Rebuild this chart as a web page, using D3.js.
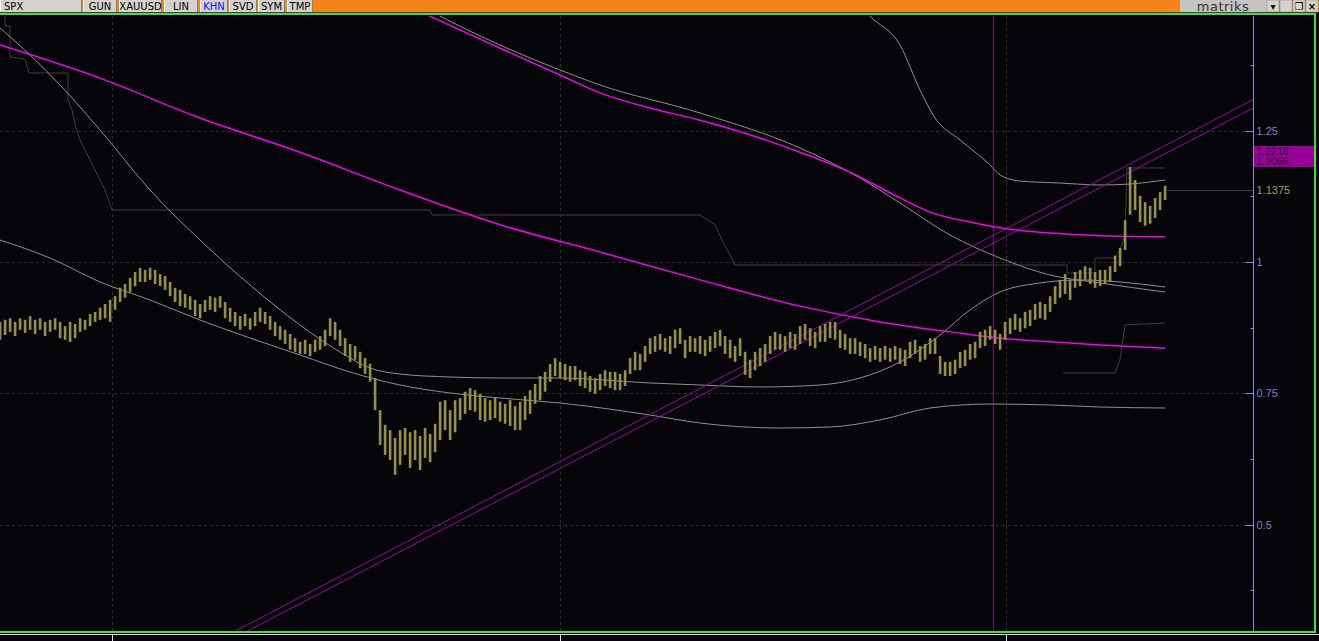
<!DOCTYPE html>
<html><head><meta charset="utf-8">
<script src="https://cdn.jsdelivr.net/npm/d3@7"></script>
<style>html,body{margin:0;padding:0;background:#060509;overflow:hidden}</style>
</head><body>
<svg id="c" width="1319" height="641"></svg>
<script>
// ---------------- DATA ----------------
const tabNames = ["SPX","GUN","XAUUSD","LIN","KHN","SVD","SYM","TMP"];
const activeTab = "KHN";
const yTickValues = [0.5, 0.75, 1, 1.25];
const yTickLabels = ["0.5","0.75","1","1.25"];
const yMinorTicks = [0.375,0.5,0.625,0.75,0.875,1,1.125,1.25,1.375];
const xPeriodStarts = [22.4, 112, 201.2];   // bar index of period boundaries
const cursorBar = 198.6;
const lastPrice = 1.1375;
const trendLabels = ["1.2218","1.2066"];

// price bars (high / low), one per bar index
const priceHigh = [.886,.890,.893,.886,.893,.890,.897,.890,.893,.886,.890,.893,.886,.878,.886,.882,.893,.890,.901,.905,
.913,.920,.928,.935,.951,.958,.970,.981,.989,.985,.989,.985,.977,.973,.962,.951,.947,.939,.935,.928,
.920,.928,.935,.932,.935,.924,.913,.905,.897,.901,.893,.905,.913,.905,.897,.886,.878,.871,.863,.855,
.848,.852,.844,.852,.859,.871,.893,.886,.871,.855,.844,.840,.829,.817,.806,.779,.718,.690,.680,.665,
.680,.684,.676,.680,.669,.684,.673,.692,.734,.737,.718,.737,.741,.753,.760,.756,.749,.741,.737,.741,
.734,.730,.737,.726,.734,.745,.756,.768,.783,.791,.806,.817,.810,.806,.802,.802,.794,.791,.783,.779,
.787,.794,.791,.791,.787,.794,.817,.829,.825,.840,.855,.859,.863,.855,.859,.871,.874,.852,.859,.855,
.859,.852,.859,.867,.871,.859,.852,.840,.855,.829,.814,.829,.836,.844,.859,.867,.863,.859,.867,.863,
.878,.882,.874,.867,.878,.882,.886,.886,.871,.863,.855,.855,.848,.844,.836,.840,.836,.840,.836,.840,
.836,.833,.848,.852,.840,.844,.855,.855,.821,.810,.810,.814,.829,.833,.844,.848,.867,.871,.878,.871,
.863,.886,.893,.901,.893,.905,.909,.920,.924,.920,.935,.954,.966,.977,.966,.981,.985,.992,.989,.981,
.985,.985,.992,1.012,1.027,1.080,1.181,1.156,1.126,1.114,1.107,1.122,1.133,1.145];
const priceLow = [.852,.861,.867,.859,.871,.865,.871,.863,.871,.859,.867,.871,.855,.852,.848,.855,.867,.871,.878,.886,
.890,.893,.886,.909,.924,.932,.943,.954,.962,.962,.966,.958,.954,.947,.935,.924,.916,.913,.909,.897,
.893,.905,.909,.905,.913,.893,.886,.878,.871,.878,.871,.878,.886,.882,.871,.859,.852,.844,.833,.829,
.825,.825,.821,.829,.833,.840,.859,.852,.840,.821,.810,.814,.798,.787,.772,.718,.652,.633,.623,.595,
.614,.633,.608,.623,.604,.627,.619,.638,.661,.680,.661,.676,.699,.711,.718,.715,.699,.696,.699,.703,
.696,.692,.688,.680,.680,.699,.711,.730,.737,.753,.772,.783,.779,.775,.772,.775,.764,.760,.753,.749,
.756,.764,.760,.756,.756,.764,.787,.794,.794,.810,.825,.829,.833,.829,.825,.836,.844,.817,.829,.829,
.825,.821,.829,.836,.840,.825,.817,.810,.821,.785,.779,.794,.802,.810,.825,.833,.833,.829,.836,.833,
.844,.852,.840,.836,.848,.848,.855,.852,.836,.833,.825,.825,.821,.817,.810,.814,.810,.814,.810,.814,
.806,.802,.817,.825,.810,.814,.825,.825,.787,.783,.783,.787,.798,.802,.814,.817,.836,.840,.852,.844,
.833,.852,.863,.871,.867,.874,.878,.890,.893,.890,.905,.920,.932,.939,.928,.951,.954,.966,.958,.951,
.954,.958,.962,.981,.992,1.023,1.090,1.099,1.076,1.069,1.073,1.084,1.099,1.118];

// moving averages / bands: [bar index, value]
const maLong = [[80,1.495],[86,1.468],[100,1.407],[112,1.356],[120,1.322],[130,1.293],[140,1.270],[152,1.236],[160,1.209],[170,1.171],[180,1.122],[186,1.095],[194,1.076],[200,1.065],[210,1.055],[220,1.050],[233,1.048]];
const maMid = [[0,1.413],[20,1.350],[40,1.274],[60,1.209],[80,1.137],[100,1.071],[120,1.019],[140,0.966],[160,0.916],[176,0.886],[190,0.867],[200,0.855],[210,0.848],[220,0.842],[233,0.836]];
const bandMiddle = [[0,1.4455],[6,1.3941],[12,1.337],[20,1.2513],[30,1.1371],[40,1.0419],[50,0.9563],[60,0.8801],[68,0.8287],[74,0.7982],[80,0.7868],[90,0.7811],[100,0.7792],[112,0.7792],[130,0.7697],[140,0.7659],[152,0.7621],[164,0.7659],[172,0.7792],[180,0.8097],[188,0.8611],[194,0.9087],[200,0.9429],[208,0.9601],[216,0.9658],[224,0.962],[233,0.9524]];
const bandLower = [[0,1.0419],[10,1.0076],[20,0.962],[30,0.9277],[40,0.8896],[50,0.8554],[60,0.823],[70,0.7906],[80,0.7659],[90,0.7507],[100,0.7411],[112,0.7316],[130,0.7088],[140,0.6935],[156,0.684],[166,0.6859],[176,0.6993],[186,0.7221],[198,0.7297],[210,0.7278],[220,0.724],[233,0.7221]];
const bandUpper = [[172,1.4893],[174,1.4683],[180,1.4131],[184,1.3275],[187,1.2742],[192,1.2323],[198,1.1847],[200,1.1657],[204,1.1542],[212,1.1504],[220,1.1466],[226,1.1485],[233,1.1561]];
const maSlow = [[84,1.4893],[88,1.4683],[100,1.4131],[112,1.3655],[120,1.337],[140,1.2837],[160,1.2171],[172,1.1599],[180,1.1124],[190,1.0514],[200,1.0076],[210,0.9753],[220,0.9601],[233,0.9429]];
const channelHigh = [[1,1.4683],[1,1.4493],[2,1.4493],[2,1.3903],[5,1.3865],[5.8,1.3598],[13.6,1.3598],[13.6,1.3084],[14.4,1.2894],[15,1.2608],[16,1.2323],[19,1.1752],[21,1.1371],[22.4,1.099],[86,1.099],[86.4,1.0895],[140,1.0895],[143,1.0705],[144.4,1.0419],[146,1.0134],[147,0.9943],[213.4,0.9943],[213.4,0.9791],[219,0.9791],[219,1.0077],[223,1.0077],[224,1.0229],[225,1.0514],[225.4,1.179],[233,1.179]];
const channelLow = [[212.6,0.7887],[223,0.7887],[224,0.8135],[225,0.8801],[233,0.8839]];
const trendA = [[46.8,0.296],[250.6,1.309]];
const trendB = [[49.2,0.296],[250.6,1.293]];

// ---------------- LAYOUT ----------------
const W = 1319, H = 641;
const plot = {left:0, right:1253, top:16, bottom:632};
const svg = d3.select("#c");
svg.append("rect").attr("width",W).attr("height",H).attr("fill","#060509");

const x = d3.scaleLinear().domain([0, 250.6]).range([plot.left, plot.right]);
const y = d3.scaleLinear().domain([0.2957, 1.4683]).range([plot.bottom, plot.top]);

svg.append("clipPath").attr("id","clip").append("rect")
  .attr("x",plot.left).attr("y",plot.top).attr("width",plot.right-plot.left).attr("height",plot.bottom-plot.top);
const g = svg.append("g").attr("clip-path","url(#clip)");

// grid
g.selectAll(".hg").data(yTickValues).join("line")
  .attr("x1",plot.left).attr("x2",plot.right)
  .attr("y1",d=>Math.round(y(d))+0.5).attr("y2",d=>Math.round(y(d))+0.5)
  .attr("stroke","#2e2e2e").attr("stroke-dasharray","3,3");
g.selectAll(".vg").data(xPeriodStarts).join("line")
  .attr("x1",d=>Math.round(x(d))+0.5).attr("x2",d=>Math.round(x(d))+0.5)
  .attr("y1",plot.top).attr("y2",plot.bottom)
  .attr("stroke","#2e2e2e").attr("stroke-dasharray","3,3");

// cursor line
g.append("line").attr("x1",Math.round(x(cursorBar))+0.5).attr("x2",Math.round(x(cursorBar))+0.5)
  .attr("y1",plot.top).attr("y2",plot.bottom).attr("stroke","#7a007a");

const line = d3.line().x(d=>x(d[0])).y(d=>y(d[1]));
const smooth = d3.line().x(d=>x(d[0])).y(d=>y(d[1])).curve(d3.curveMonotoneX);

g.append("path").attr("d",line(channelHigh)).attr("fill","none").attr("stroke","#3d3d3d");
g.append("path").attr("d",line(channelLow)).attr("fill","none").attr("stroke","#3d3d3d");
g.append("path").attr("d",smooth(bandUpper)).attr("fill","none").attr("stroke","#8e8e8e");
g.append("path").attr("d",smooth(bandMiddle)).attr("fill","none").attr("stroke","#8e8e8e");
g.append("path").attr("d",smooth(bandLower)).attr("fill","none").attr("stroke","#8e8e8e");
g.append("path").attr("d",smooth(maSlow)).attr("fill","none").attr("stroke","#8e8e8e");

g.append("path").attr("d",line(trendA)).attr("fill","none").attr("stroke","#9a00a8");
g.append("path").attr("d",line(trendB)).attr("fill","none").attr("stroke","#9a00a8");

g.append("path").attr("d",smooth(maLong)).attr("fill","none").attr("stroke","#f000f0").attr("stroke-width",1.5);
g.append("path").attr("d",smooth(maMid)).attr("fill","none").attr("stroke","#f000f0").attr("stroke-width",1.5);

// price bars
const bars = priceHigh.map((h,i)=>({i, h, l: priceLow[i]}));
g.selectAll(".bar").data(bars).join("rect")
  .attr("x",d=>x(d.i)-1.2).attr("width",2.6)
  .attr("y",d=>y(d.h)).attr("height",d=>Math.max(1,y(d.l)-y(d.h)))
  .attr("fill","#94914b");

// last price line
const lastIdx = priceHigh.length-1;
svg.append("line").attr("x1",x(lastIdx)+2).attr("x2",plot.right)
  .attr("y1",Math.round(y(lastPrice))+0.5).attr("y2",Math.round(y(lastPrice))+0.5).attr("stroke","#3a3a3a");

// right axis
const axisX = plot.right + 0.5;
svg.append("line").attr("x1",axisX).attr("x2",axisX).attr("y1",plot.top).attr("y2",plot.bottom).attr("stroke","#8a8ad0");
svg.selectAll(".mt").data(yMinorTicks).join("line")
  .attr("x1",axisX-3).attr("x2",axisX).attr("y1",d=>Math.round(y(d))+0.5).attr("y2",d=>Math.round(y(d))+0.5)
  .attr("stroke","#8a8ad0");
svg.selectAll(".mjt").data(yTickValues).join("line")
  .attr("x1",axisX-8).attr("x2",axisX).attr("y1",d=>Math.round(y(d))+0.5).attr("y2",d=>Math.round(y(d))+0.5)
  .attr("stroke","#8a8ad0");
svg.selectAll(".yl").data(yTickValues).join("text")
  .attr("x",axisX+3).attr("y",d=>y(d)+4).text((d,i)=>yTickLabels[i])
  .attr("fill","#7f7fd8").attr("font-family","Liberation Sans, Arial, sans-serif").attr("font-size",11);

// trend labels (box)
function valAt(t, idx){ return t[0][1] + (t[1][1]-t[0][1])*(idx-t[0][0])/(t[1][0]-t[0][0]); }
const vA = valAt(trendA,lastIdx);
const boxTop = Math.round(y(vA));
svg.append("rect").attr("x",axisX+0.5).attr("y",boxTop).attr("width",61).attr("height",21).attr("fill","#980098");
svg.append("text").attr("x",axisX+3).attr("y",boxTop+9).text(trendLabels[0])
  .attr("fill","#2c0838").attr("font-family","Liberation Sans, Arial, sans-serif").attr("font-size",10.5);
svg.append("text").attr("x",axisX+3).attr("y",boxTop+19).text(trendLabels[1])
  .attr("fill","#2c0838").attr("font-family","Liberation Sans, Arial, sans-serif").attr("font-size",10.5);

// last price label
svg.append("text").attr("x",axisX+3).attr("y",y(lastPrice)+4).text(lastPrice.toFixed(4))
  .attr("fill","#9d9a50").attr("font-family","Liberation Sans, Arial, sans-serif").attr("font-size",11);

// frame: bottom green + white, right green
svg.append("rect").attr("x",0).attr("y",631).attr("width",1316).attr("height",2).attr("fill","#44dd44");
svg.append("rect").attr("x",0).attr("y",634).attr("width",1319).attr("height",1).attr("fill","#d8d8d8");
svg.append("rect").attr("x",1314).attr("y",13).attr("width",2).attr("height",620).attr("fill","#44dd44");
svg.selectAll(".xt").data(xPeriodStarts).join("line")
  .attr("x1",d=>Math.round(x(d))+0.5).attr("x2",d=>Math.round(x(d))+0.5)
  .attr("y1",635).attr("y2",641).attr("stroke","#e0e0e0");

// ---------------- TOOLBAR ----------------
const tabLayout = [[0,82],[83,117],[119,162],[164,198],[200,228],[229,257],[258,285],[287,313]];
svg.append("rect").attr("x",0).attr("y",0).attr("width",W).attr("height",12).attr("fill","#f7821c");
tabNames.forEach((n,i)=>{
  const [a,b] = tabLayout[i];
  svg.append("rect").attr("x",a).attr("y",0).attr("width",b-a).attr("height",12).attr("fill","#d6d3ce");
  svg.append("line").attr("x1",a+0.5).attr("x2",a+0.5).attr("y1",0).attr("y2",12).attr("stroke","#ffffff");
  svg.append("line").attr("x1",b-0.5).attr("x2",b-0.5).attr("y1",0).attr("y2",12).attr("stroke","#808080");
  svg.append("text").attr("x", i===0 ? a+4 : (a+b)/2).attr("y",10)
    .attr("text-anchor", i===0 ? "start":"middle")
    .attr("font-family","DejaVu Sans, Verdana, sans-serif").attr("font-size",10)
    .attr("fill", n===activeTab ? "#1010ff" : "#000").text(n);
});
svg.append("rect").attr("x",1180).attr("y",0).attr("width",87).attr("height",12).attr("fill","#c4c4c4");
svg.append("text").attr("x",1223).attr("y",10.5).attr("text-anchor","middle").attr("font-family","DejaVu Sans, sans-serif")
  .attr("font-size",13).attr("fill","#333").attr("letter-spacing",0.5).text("matriks");
const winBtns = ["▾","_","❐","×"];
winBtns.forEach((s,i)=>{
  const bx = 1267 + i*13;
  svg.append("rect").attr("x",bx).attr("y",0).attr("width",12).attr("height",12).attr("fill","#d6d3ce").attr("stroke","#808080").attr("stroke-width",0.5);
  svg.append("text").attr("x",bx+6).attr("y",10).attr("text-anchor","middle").attr("font-family","DejaVu Sans, sans-serif")
    .attr("font-size",10).attr("font-weight","bold").attr("fill","#000").text(s);
});
svg.append("rect").attr("x",0).attr("y",12).attr("width",W).attr("height",1).attr("fill","#404040");
svg.append("rect").attr("x",0).attr("y",13).attr("width",1316).attr("height",2).attr("fill","#44dd44");
</script>
</body></html>
